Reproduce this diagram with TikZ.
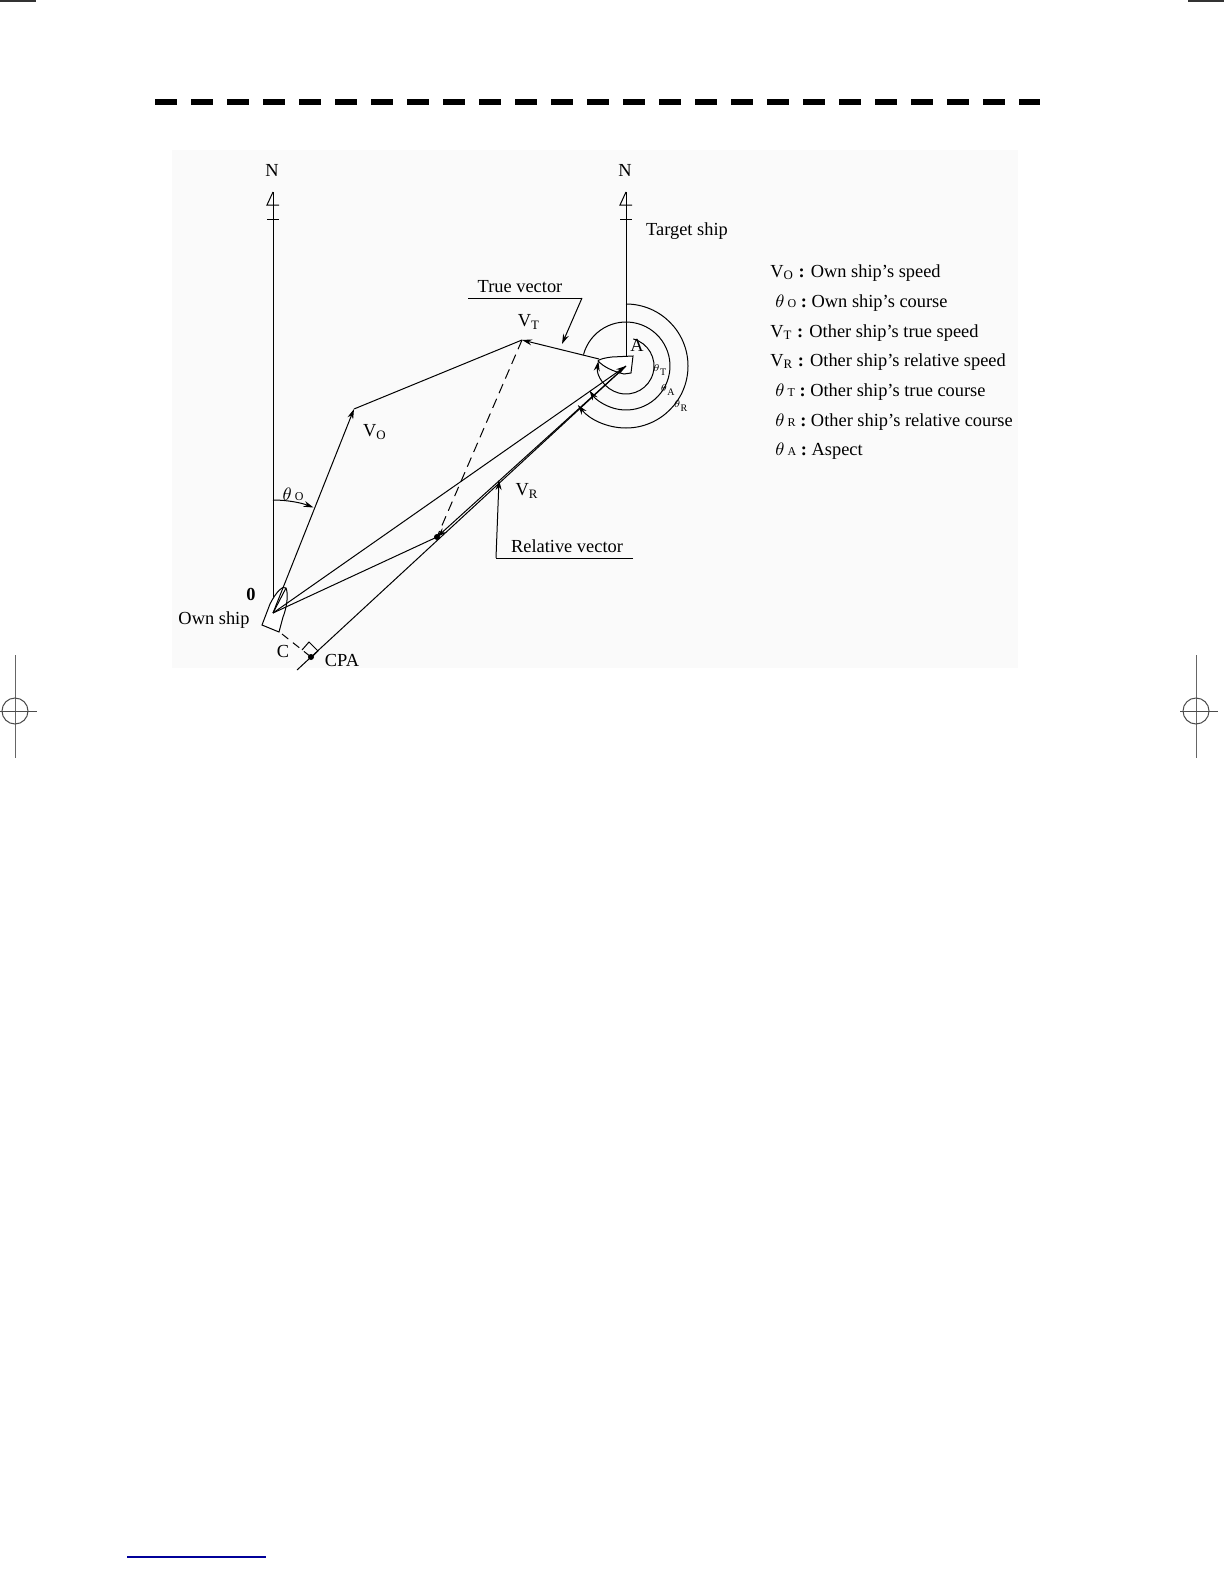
\documentclass[tikz,border=0pt]{standalone}
\usepackage{fontspec}
\setmainfont{Liberation Serif}
\usetikzlibrary{arrows.meta}
\begin{document}
\begin{tikzpicture}[x=0.5pt,y=-0.5pt,
  ln/.style={line width=0.5pt,black},
  arr/.style={ln,-{Stealth[length=5pt,width=3pt]}},
  lbl/.style={font=\fontsize{9.2}{11}\selectfont,inner sep=0pt},
  sml/.style={font=\fontsize{5}{6}\selectfont,inner sep=0pt},
  leg/.style={font=\fontsize{9.2}{11}\selectfont,inner sep=0pt,anchor=west},
  dotp/.style={circle,fill=black,inner sep=0pt,minimum size=3pt}]
\useasboundingbox (0,0) rectangle (1224,1584);
\fill[white] (0,0) rectangle (1224,1584);
\fill[black!2] (172,150) rectangle (1018,668);
% page marks
\draw[line width=1pt,black!80] (0,1) -- (36,1);
\draw[line width=1pt,black!80] (1188,1) -- (1224,1);
\draw[line width=3pt,dash pattern=on 11pt off 7pt] (155,102) -- (1040,102);
\draw[line width=0.6pt,blue!60!black] (127,1557) -- (266,1557);
\foreach \cx in {15,1196}{
  \draw[black!60,line width=0.5pt] (\cx,655) -- (\cx,758);
  \draw[black!70,line width=0.5pt] (\cx,711) circle[radius=13];
  \draw[black!70,line width=0.5pt] (\cx-16,711) -- (\cx+22,711);
}
% coordinates
\coordinate (O) at (273,613);
\coordinate (VO) at (354,409);
\coordinate (VT) at (522,340);
\coordinate (A) at (626,366);
\coordinate (bow) at (599,359);
\coordinate (D) at (437,537);
\coordinate (CPA) at (311,657);
\coordinate (Rend) at (297,670);
\coordinate (Cst) at (282,634);
% north markers
\foreach \nx/\nb in {273/600,626/360}{
  \draw[ln] (\nx,192) -- (\nx,\nb);
  \draw[ln] (\nx,192) -- (\nx-6,205) -- (\nx+6,205);
  \draw[ln] (\nx-6,219) -- (\nx+6,219);
}
\node[lbl] (N1) at (272,170) {N};
\node[lbl] (N2) at (625,170) {N};
% own ship hull
\draw[ln,fill=white] (262,625) -- (270,604) .. controls (276,592) and (283,585) .. (286,588)
  .. controls (289,595) and (286,610) .. (283,617) -- (279,632) -- cycle;
\draw[ln] (O) -- (286,588);
% target ship hull
\draw[ln,fill=white] (633,356) -- (612,357) .. controls (603,358) and (598,360) .. (598,361)
  .. controls (604,367) and (612,371) .. (624,374) -- (631,373) -- cycle;
% vectors
\draw[arr] (O) -- (VO);
\draw[ln] (VO) -- (VT);
\draw[arr] (bow) -- (VT);
\draw[ln,dash pattern=on 5pt off 3pt] (VT) -- (D);
\draw[arr] (O) -- (A);
\draw[ln] (O) -- (D);
\draw[ln] (A) -- (Rend);
\draw[arr] (A) -- (D);
\node[dotp] at (D) {};
\node[dotp] at (CPA) {};
% CPA perpendicular
\draw[ln,dash pattern=on 4pt off 3pt] (Cst) -- (CPA);
\draw[ln] (302,650) -- (309,642) -- (318,651) -- (311,658);
% theta_O arc
\draw[arr] (273,500) arc[start angle=-90,end angle=-69,radius=113];
% arcs around A
\draw[arr] (A) ++(-75:28) arc[start angle=-75,end angle=190,radius=28];
\draw[arr] (A) ++(-165:44) arc[start angle=-165,end angle=146,radius=44];
\draw[arr] (A) ++(-90:62) arc[start angle=-90,end angle=141,radius=62];
% labels
\node[lbl] (l0) at (251,594) {\textbf{0}};
\node[lbl] (los) at (214,620) {Own ship};
\node[lbl] (lc) at (283,651) {C};
\node[lbl] (lcpa) at (342,660) {CPA};
\node[lbl] (lth) at (293,494) {$\theta$\,{\fontsize{6}{7}\selectfont O}};
\node[lbl] (lvo) at (375,432) {V\textsubscript{O}};
\node[lbl] (lvt) at (529,322) {V\textsubscript{T}};
\node[lbl] (lvr) at (527,491) {V\textsubscript{R}};
\node[lbl] (la) at (637,345) {A};
\node[sml] at (660,370) {$\theta$\textsubscript{T}};
\node[sml] at (668,390) {$\theta$\textsubscript{A}};
\node[sml] at (681,406) {$\theta$\textsubscript{R}};
\node[lbl] (lts) at (687,231) {Target ship};
\node[lbl] (ltv) at (520,287) {True vector};
\draw[ln] (468,298) -- (582,298);
\draw[arr] (582,298) -- (562,344);
\node[lbl] (lrv) at (567,546) {Relative vector};
\draw[ln] (633,558) -- (496,558);
\draw[arr] (496,558) -- (499,480);
% legend
\begin{scope}[every node/.style={leg}]
\node at (770,273) {V\textsubscript{O} \textbf{:} Own ship's speed};
\node at (775,303) {$\theta$\,{\fontsize{6}{7}\selectfont O} \textbf{:} Own ship's course};
\node at (770,333) {V\textsubscript{T} \textbf{:} Other ship's true speed};
\node at (770,362) {V\textsubscript{R} \textbf{:} Other ship's relative speed};
\node at (775,392) {$\theta$\,{\fontsize{6}{7}\selectfont T} \textbf{:} Other ship's true course};
\node at (775,422) {$\theta$\,{\fontsize{6}{7}\selectfont R} \textbf{:} Other ship's relative course};
\node at (775,451) {$\theta$\,{\fontsize{6}{7}\selectfont A} \textbf{:} Aspect};
\end{scope}
\end{tikzpicture}
\end{document}
